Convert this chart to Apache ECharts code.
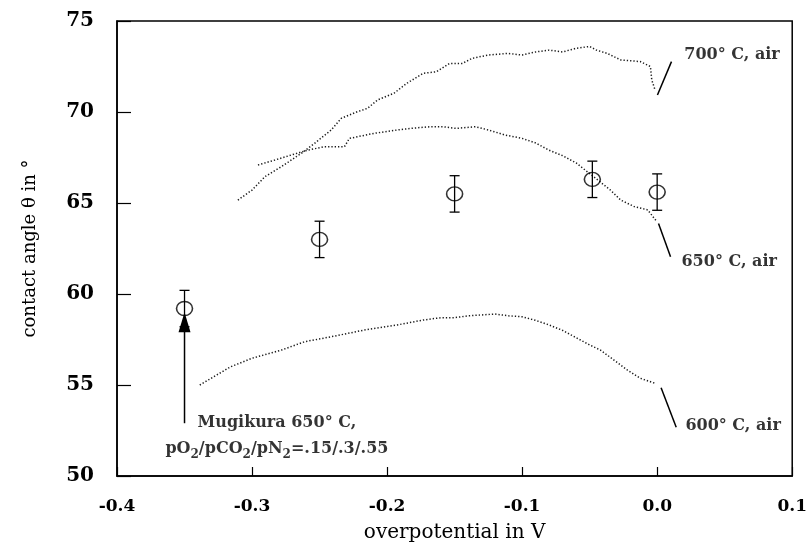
<!DOCTYPE html>
<html>
<head>
<meta charset="utf-8">
<script src="https://cdn.jsdelivr.net/npm/echarts@6/dist/echarts.min.js"></script>
<style>html,body{margin:0;padding:0;background:#fff;}#chart{width:810px;height:554px;}</style>
</head>
<body>
<div id="chart"></div>
<script>
// ---- data ----
const xTicks = [-0.4, -0.3, -0.2, -0.1, 0.0, 0.1];
const xTickLabels = ['-0.4', '-0.3', '-0.2', '-0.1', '0.0', '0.1'];
const yTicks = [50, 55, 60, 65, 70, 75];
const yTickLabels = ['50', '55', '60', '65', '70', '75'];

const curve700 = [[-0.3105,65.16],[-0.300,65.71],[-0.2904,66.45],[-0.2782,67.0],[-0.2635,67.73],[-0.2537,68.28],[-0.2414,69.01],[-0.2340,69.65],[-0.2218,70.02],[-0.2145,70.20],[-0.2071,70.66],[-0.1949,71.03],[-0.1853,71.58],[-0.1732,72.13],[-0.1635,72.21],[-0.1538,72.67],[-0.1442,72.67],[-0.1370,72.95],[-0.1249,73.13],[-0.1104,73.22],[-0.100,73.13],[-0.090,73.3],[-0.080,73.4],[-0.070,73.3],[-0.060,73.5],[-0.050,73.6],[-0.045,73.4],[-0.037,73.22],[-0.027,72.86],[-0.0125,72.77],[-0.005,72.5],[-0.004,71.76],[-0.0015,71.2]];
const curve650 = [[-0.2956,67.09],[-0.2831,67.36],[-0.2708,67.64],[-0.2586,67.91],[-0.2463,68.09],[-0.2316,68.09],[-0.2279,68.55],[-0.2096,68.83],[-0.1925,69.01],[-0.1828,69.10],[-0.1683,69.19],[-0.1587,69.19],[-0.1490,69.10],[-0.1345,69.19],[-0.1249,69.01],[-0.1128,68.74],[-0.100,68.55],[-0.090,68.3],[-0.080,67.9],[-0.070,67.6],[-0.060,67.2],[-0.048,66.5],[-0.0346,65.71],[-0.027,65.16],[-0.0169,64.80],[-0.007,64.62],[-0.0002,63.97]];
const curve600 = [[-0.3387,55.0],[-0.3159,56.0],[-0.300,56.47],[-0.2782,56.92],[-0.2610,57.38],[-0.2414,57.65],[-0.2169,58.02],[-0.1925,58.30],[-0.1732,58.57],[-0.160,58.7],[-0.150,58.7],[-0.140,58.8],[-0.130,58.85],[-0.120,58.9],[-0.110,58.8],[-0.100,58.75],[-0.090,58.55],[-0.080,58.3],[-0.070,58.0],[-0.060,57.6],[-0.050,57.2],[-0.042,56.92],[-0.032,56.37],[-0.022,55.82],[-0.0125,55.37],[-0.0015,55.09]];

const pointsX = [-0.35, -0.25, -0.15, -0.048, 0.0];
const pointsY = [59.2, 63.0, 65.5, 66.3, 65.6];
const pointsErr = [1.0, 1.0, 1.0, 1.0, 1.0];

const leader700 = [[0.0106,72.77],[0.0002,70.93]];
const leader650 = [[0.001,63.88],[0.0099,62.05]];
const leader600 = [[0.0029,54.85],[0.0141,52.68]];

const arrowFrom = [-0.35, 52.9];
const arrowTo = [-0.35, 59.0];

const curveLabels = ['700° C, air', '650° C, air', '600° C, air'];
const curveLabelPos = [[0.0201,73.13],[0.018,61.76],[0.0209,52.75]];
const noteLines = ['{a|Mugikura 650° C,}', '{a|pO}{s|2}{a|/pCO}{s|2}{a|/pN}{s|2}{a|=.15/.3/.55}'];
const notePos = [[-0.2816,52.91],[-0.2816,51.50]];

// ---- chart ----
const FONT = 'DejaVu Serif';
const chart = echarts.init(document.getElementById('chart'));
function nearestLabel(v, ticks, labels) {
  let best = 0;
  for (let i = 1; i < ticks.length; i++) if (Math.abs(ticks[i] - v) < Math.abs(ticks[best] - v)) best = i;
  return labels[best];
}
const curveStyle = {type: [1.3, 2], width: 1.5, color: '#1a1a1a'};
function curveSeries(d) {
  return {type: 'line', data: d, showSymbol: false, symbol: 'none', lineStyle: curveStyle, silent: true, z: 2};
}
function leaderSeries(d) {
  return {type: 'line', data: d, showSymbol: false, symbol: 'none', lineStyle: {color: '#000', width: 1.5}, silent: true, z: 3};
}
const option = {
  backgroundColor: '#fff',
  animation: false,
  grid: {left: 117, right: 14, top: 21, bottom: 78, show: true, borderColor: '#000', borderWidth: 1.5, backgroundColor: 'transparent'},
  xAxis: {
    type: 'value', min: -0.4, max: 0.1, interval: 0.1,
    axisLine: {show: true, onZero: false, lineStyle: {color: '#000', width: 1.5}},
    axisTick: {show: true, inside: true, length: 9, lineStyle: {color: '#000', width: 1.2}},
    splitLine: {show: false},
    axisLabel: {margin: 22, color: '#000', fontFamily: FONT, fontSize: 17, fontWeight: 'bold',
      formatter: v => nearestLabel(v, xTicks, xTickLabels)},
    name: 'overpotential in V', nameLocation: 'middle', nameGap: 47,
    nameTextStyle: {color: '#000', fontFamily: FONT, fontSize: 20}
  },
  yAxis: {
    type: 'value', min: 50, max: 75, interval: 5,
    axisLine: {show: true, onZero: false, lineStyle: {color: '#000', width: 1.5}},
    axisTick: {show: true, inside: true, length: 14, lineStyle: {color: '#000', width: 1.2}},
    splitLine: {show: false},
    axisLabel: {margin: 23, color: '#000', fontFamily: FONT, fontSize: 20, fontWeight: 'bold',
      formatter: v => nearestLabel(v, yTicks, yTickLabels)},
    name: 'contact angle θ in °', nameLocation: 'middle', nameGap: 78,
    nameTextStyle: {color: '#000', fontFamily: FONT, fontSize: 18}
  },
  series: [
    curveSeries(curve700),
    curveSeries(curve650),
    curveSeries(curve600),
    leaderSeries(leader700),
    leaderSeries(leader650),
    leaderSeries(leader600),
    {
      type: 'custom', z: 8, silent: true,
      data: [[arrowFrom[0], arrowFrom[1], arrowTo[0], arrowTo[1]]],
      renderItem: function (params, api) {
        const a = api.coord([api.value(0), api.value(1)]);
        const b = api.coord([api.value(2), api.value(3)]);
        const headLen = 20, headHalf = 6;
        return {type: 'group', children: [
          {type: 'line', shape: {x1: a[0], y1: a[1], x2: b[0], y2: b[1] + headLen - 2}, style: {stroke: '#000', lineWidth: 1.5}},
          {type: 'polygon', shape: {points: [[b[0], b[1]], [b[0] - headHalf, b[1] + headLen], [b[0] + headHalf, b[1] + headLen]]}, style: {fill: '#000'}}
        ]};
      }
    },
    {
      type: 'custom', z: 4, silent: true,
      data: pointsX.map((x, i) => [x, pointsY[i], pointsErr[i]]),
      renderItem: function (params, api) {
        const x = api.value(0), y = api.value(1), e = api.value(2);
        const top = api.coord([x, y + e]);
        const bot = api.coord([x, y - e]);
        const hw = 5;
        const st = {stroke: '#000', lineWidth: 1.3};
        return {type: 'group', children: [
          {type: 'line', shape: {x1: top[0], y1: top[1], x2: bot[0], y2: bot[1]}, style: st},
          {type: 'line', shape: {x1: top[0] - hw, y1: top[1], x2: top[0] + hw, y2: top[1]}, style: st},
          {type: 'line', shape: {x1: bot[0] - hw, y1: bot[1], x2: bot[0] + hw, y2: bot[1]}, style: st}
        ]};
      }
    },
    {
      type: 'scatter', z: 6, silent: true,
      data: pointsX.map((x, i) => [x, pointsY[i]]),
      symbol: 'circle', symbolSize: [16, 14],
      itemStyle: {color: 'transparent', borderColor: '#000', borderWidth: 1.5}
    },
    {
      type: 'scatter', z: 7, silent: true, symbolSize: 0,
      data: curveLabelPos.map((p, i) => ({value: p, name: curveLabels[i]})),
      label: {show: true, position: 'right', distance: 0, formatter: p => p.name,
        color: '#000', textBorderWidth: 0, fontFamily: FONT, fontSize: 16, fontWeight: 'bold'}
    },
    {
      type: 'scatter', z: 7, silent: true, symbolSize: 0,
      data: notePos.map((p, i) => ({value: p, name: noteLines[i]})),
      label: {show: true, position: 'inside', formatter: p => p.name, color: '#000', textBorderWidth: 0,
        rich: {
          a: {color: '#000', textBorderWidth: 0, fontFamily: FONT, fontSize: 16, fontWeight: 'bold', lineHeight: 20},
          s: {color: '#000', textBorderWidth: 0, fontFamily: FONT, fontSize: 12, fontWeight: 'bold', lineHeight: 12, padding: [12, 0, 0, 0]}
        }}
    }
  ]
};
chart.setOption(option);
</script>
</body>
</html>
